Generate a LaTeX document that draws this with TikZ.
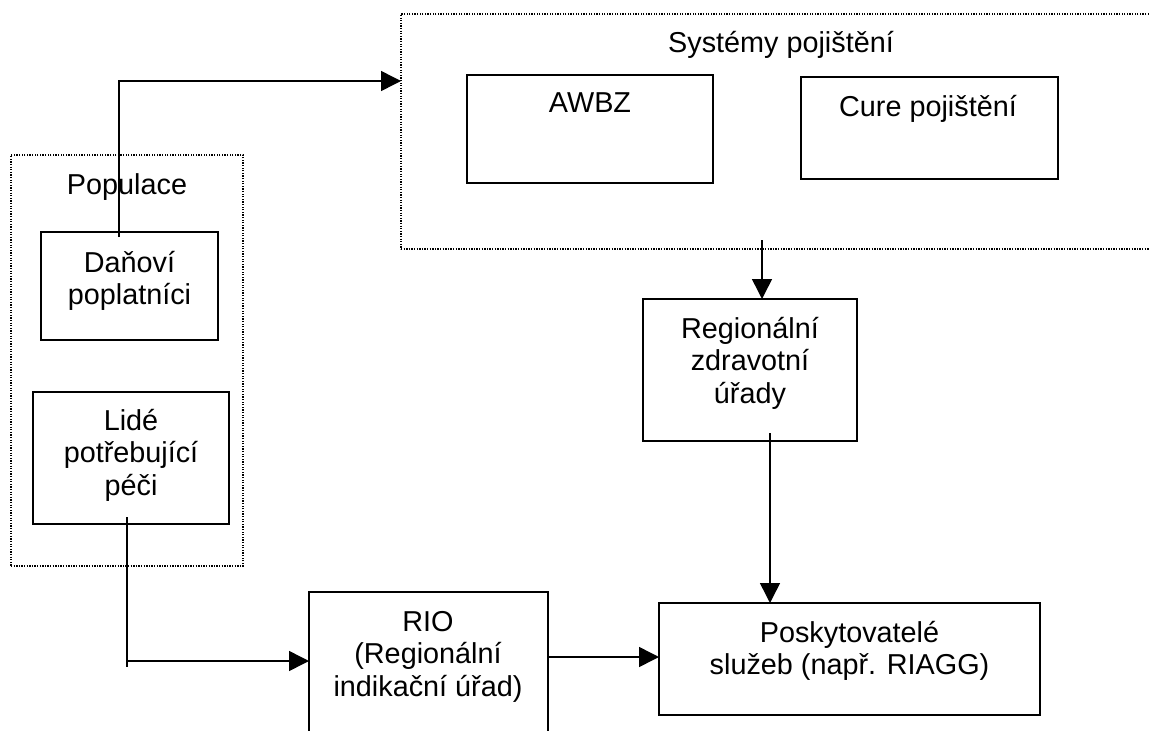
\documentclass[tikz,border=0pt]{standalone}
\usepackage{fontspec}
\setmainfont{Liberation Sans}
\usetikzlibrary{arrows.meta,positioning}

\begin{document}
\begin{tikzpicture}[
    x=1pt, y=-1pt,
    every node/.style={font=\fontsize{28.8pt}{32.5pt}\selectfont, inner sep=0pt, outer sep=0pt},
    block/.style={rectangle, draw=black, line width=1.5pt},
    group/.style={rectangle, draw=black, line width=1.3pt, dash pattern=on 1.3pt off 1.3pt},
    txt/.style={align=center, anchor=base},
    link/.style={line width=1.5pt},
    arrow/.style={line width=1.5pt, -{Triangle[length=20pt,width=20pt]}}
]
    \useasboundingbox (0,0) rectangle (1149,731);

    % Groups
    \node[group, minimum width=779pt, minimum height=235pt] (sys) at (790.5,131.5) {};
    \node[group, minimum width=232pt, minimum height=411pt] (pop) at (127,360.5) {};
    \node[txt] (systitle) at (781,52) {Systémy pojištění};
    \node[txt] (poptitle) at (127,194) {Populace};

    % Nodes
    \node[block, minimum width=246pt, minimum height=108pt] (awbz) at (590,129) {};
    \node[block, minimum width=257pt, minimum height=102pt] (cure) at (929.5,128) {};
    \node[block, minimum width=177pt, minimum height=108pt] (dan) at (129.5,286) {};
    \node[block, minimum width=196pt, minimum height=132pt] (lide) at (131,458) {};
    \node[block, minimum width=214pt, minimum height=142pt] (reg) at (750,370) {};
    \node[block, minimum width=381pt, minimum height=112pt] (posk) at (849.5,659) {};
    \node[block, minimum width=239pt, minimum height=158pt] (rio) at (428.5,671) {};

    % Texts (base = last line)
    \node[txt] (awbztxt) at (590,112) {AWBZ};
    \node[txt] (curetxt) at (928,116) {Cure pojištění};
    \node[txt] (dantxt) at (129.5,304.5) {Daňoví\\poplatníci};
    \node[txt] (lidetxt) at (131,495) {Lidé\\potřebující\\péči};
    \node[txt] (regtxt) at (750,403) {Regionální\\zdravotní\\úřady};
    \node[txt] (posktxt) at (849.5,674.5) {Poskytovatelé\\služeb (např. RIAGG)};
    \node[txt] (riotxt) at (428,696) {RIO\\(Regionální\\indikační úřad)};

    % Arrows
    \coordinate (danout) at (119,237);
    \coordinate (bend) at (119,81);
    \draw[arrow] (danout) -- (bend) -- (bend -| sys.west);

    \coordinate (sysout) at (762,240);
    \draw[arrow] (sysout) -- (sysout |- reg.north);

    \coordinate (regout) at (770,433);
    \draw[arrow] (regout) -- (regout |- posk.north);

    \coordinate (lideout) at (127,517);
    \coordinate (lideend) at (127,667);
    \coordinate (riojoin) at (127,661);
    \draw[link] (lideout) -- (lideend);
    \draw[arrow] (riojoin) -- (riojoin -| rio.west);

    \coordinate (rioout) at (548,657);
    \draw[arrow] (rioout) -- (rioout -| posk.west);
\end{tikzpicture}
\end{document}
